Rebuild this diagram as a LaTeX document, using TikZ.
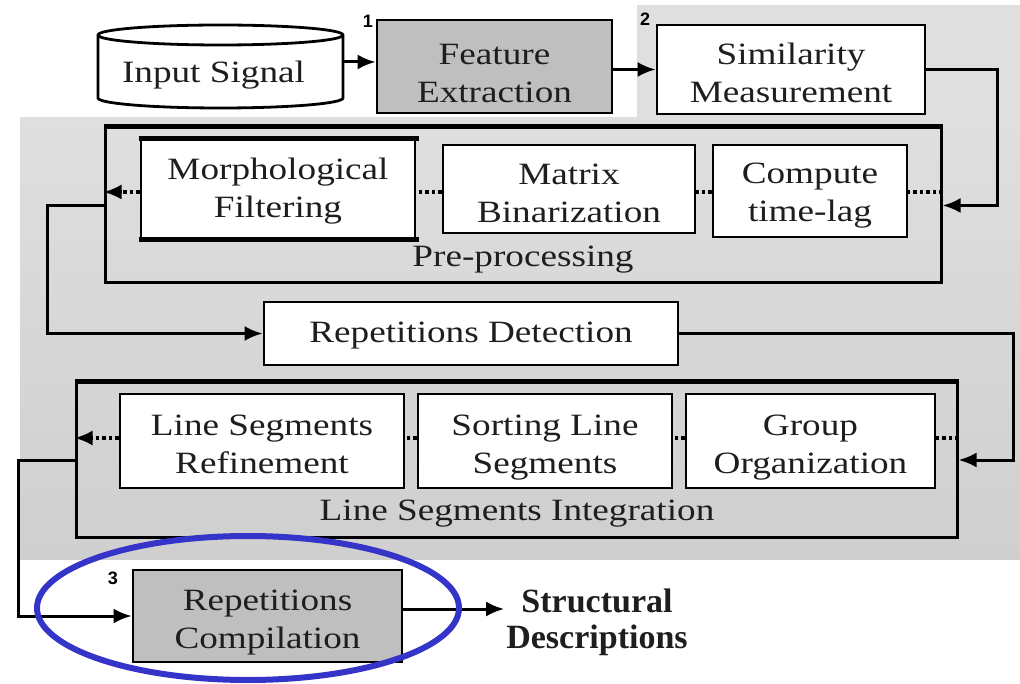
\documentclass[tikz,border=0pt]{standalone}
\usepackage{fontspec}
\setmainfont{Liberation Serif}[FakeStretch=1.2]
\newfontfamily\sdfont{Liberation Serif}
\newfontfamily\numfont{Liberation Sans}
\usetikzlibrary{arrows.meta}
\definecolor{bgtop}{HTML}{DFDFDF}
\definecolor{bgbot}{HTML}{CFCFCF}
\definecolor{boxgray}{HTML}{BFBFBF}
\definecolor{txt}{HTML}{1E1E1E}
\definecolor{ringblue}{HTML}{3434C8}
% two-line text: #1 strut height of first line, #2 strut depth of last line
\newcommand\twoline[4]{\rule{0pt}{#1pt}#3\\#4\rule[-#2pt]{0pt}{#2pt}}
\newcommand\oneline[3]{\rule[-#2pt]{0pt}{\numexpr#1+#2\relax pt}#3}
\tikzset{
  boxtext/.style={font=\fontsize{31}{38}\selectfont, text=txt, align=center},
  wbox/.style={boxtext, draw=black, line width=2.8pt, fill=white, inner sep=0pt},
  gbox/.style={wbox, fill=boxgray},
  contbox/.style={draw=black, line width=3pt, inner sep=0pt},
  grouplbl/.style={boxtext, inner sep=0pt, anchor=base},
  arr/.style={draw=black, line width=3pt, -{Latex[length=18pt,width=15pt]}},
  dotl/.style={draw=black, line width=3.5pt, dash pattern=on 3.5pt off 3pt},
  numl/.style={font=\numfont\bfseries\fontsize{18}{18}\selectfont, inner sep=0pt},
}
\begin{document}
\begin{tikzpicture}[x=1pt,y=-1pt]
\useasboundingbox (0,0) rectangle (1020,684);
% backgrounds
\fill[bgtop] (637,5) rectangle (1020,118);
\shade[top color=bgtop, bottom color=bgbot] (20,118) rectangle (1020,559);

% input signal cylinder
\node[minimum width=245pt, minimum height=83pt, inner sep=0pt] (input) at (220.5,66.5) {};
\filldraw[fill=white, draw=black, line width=2.8pt]
  (98,35) -- (98,98) arc[start angle=180, end angle=360, x radius=122.5pt, y radius=10pt]
  -- (343,35) arc[start angle=0, end angle=180, x radius=122.5pt, y radius=10pt] -- cycle;
\draw[line width=2.8pt] (98,35) arc[start angle=180, end angle=360, x radius=122.5pt, y radius=10pt];
\node[grouplbl] (inputtxt) at (213.5,83) {Input Signal};

% top row
\node[gbox, minimum width=235pt, minimum height=89pt] (fe) at (494.5,66.5) {\twoline{45}{10}{Feature}{Extraction}};
\node[wbox, minimum width=268pt, minimum height=89pt] (sm) at (791,69.5) {\twoline{39}{10}{Similarity}{Measurement}};
\node[numl] (n1) at (368,21) {1};
\node[numl] (n2) at (645,19) {2};

% pre-processing
\node[contbox, minimum width=836pt, minimum height=155pt] (pre) at (523,205.5) {};
\draw[line width=4.5pt] (pre.north west) -- (pre.north east);
\node[wbox, minimum width=274pt, minimum height=98pt] (mf) at (278,189) {\twoline{30}{10}{Morphological}{Filtering}};
\draw[line width=5.5pt] ([xshift=-1pt]mf.north west) -- ([xshift=3pt]mf.north east);
\draw[line width=5.5pt] ([xshift=-1pt]mf.south west) -- ([xshift=3pt]mf.south east);
\node[wbox, minimum width=252pt, minimum height=88pt] (mb) at (569,189) {\twoline{40}{10}{Matrix}{Binarization}};
\node[wbox, minimum width=194pt, minimum height=92pt] (ct) at (810,191) {\twoline{34}{10}{Compute}{time-lag}};
\node[grouplbl] (prelbl) at (523,267) {Pre-processing};
\coordinate (pd) at (0,192);
\draw[dotl] (pre.east |- pd) -- (ct.east |- pd);
\draw[dotl] (ct.west |- pd) -- (mb.east |- pd);
\draw[dotl] (mb.west |- pd) -- (mf.east |- pd);
\draw[dotl] (mf.west |- pd) -- ([xshift=16pt]pre.west |- pd);
\draw[arr] ([xshift=18pt]pre.west |- pd) -- (pre.west |- pd);

% repetitions detection
\node[wbox, minimum width=414pt, minimum height=63pt] (rd) at (471,333.5) {\oneline{29}{10}{Repetitions Detection}};

% line segments integration
\node[contbox, minimum width=881pt, minimum height=154pt] (lsi) at (516.5,460) {};
\draw[line width=5pt] (lsi.north west) -- (lsi.north east);
\node[wbox, minimum width=284pt, minimum height=94pt] (lsr) at (262,441) {\twoline{36}{10}{Line Segments}{Refinement}};
\node[wbox, minimum width=254pt, minimum height=94pt] (sls) at (545,441) {\twoline{36}{10}{Sorting Line}{Segments}};
\node[wbox, minimum width=249pt, minimum height=94pt] (go) at (810.5,441) {\twoline{36}{10}{Group}{Organization}};
\node[grouplbl] (lsilbl) at (517,520) {Line Segments Integration};
\coordinate (ld) at (0,438);
\draw[dotl] (lsi.east |- ld) -- (go.east |- ld);
\draw[dotl] (go.west |- ld) -- (sls.east |- ld);
\draw[dotl] (sls.west |- ld) -- (lsr.east |- ld);
\draw[dotl] (lsr.west |- ld) -- ([xshift=16pt]lsi.west |- ld);
\draw[arr] ([xshift=18pt]lsi.west |- ld) -- (lsi.west |- ld);

% repetitions compilation
\node[gbox, minimum width=269pt, minimum height=92pt] (rc) at (267.5,616) {\twoline{36}{10}{Repetitions}{Compilation}};
\node[numl] (n3) at (113,578) {3};
\node[font=\sdfont\bfseries\fontsize{34}{36}\selectfont, text=txt, align=center, inner sep=0pt] (sd) at (597,621) {\rule{0pt}{28pt}Structural\\Descriptions\rule[-10pt]{0pt}{10pt}};

% connectors
\coordinate (c1) at (0,62);
\draw[arr] (input.east |- c1) -- (fe.west |- c1);
\draw[arr] (fe.east |- sm.west) -- (sm.west);
\coordinate (r1) at (997,150);
\draw[arr] (sm.east) -| (r1) |- (pre.east);
\coordinate (l1) at (47,300);
\draw[arr] (pre.west) -| (l1) |- (rd.west);
\coordinate (r2) at (1013,400);
\draw[arr] (rd.east) -| (r2) |- (lsi.east);
\coordinate (l2) at (18,540);
\draw[arr] (lsi.west) -| (l2) |- (rc.west);
\coordinate (c3) at (0,609);
\draw[arr] (rc.east |- c3) -- ([xshift=-2pt]sd.west |- c3);

% highlight ring
\draw[ringblue, line width=6pt] (248,608) ellipse [x radius=211pt, y radius=72pt];
\end{tikzpicture}
\end{document}
